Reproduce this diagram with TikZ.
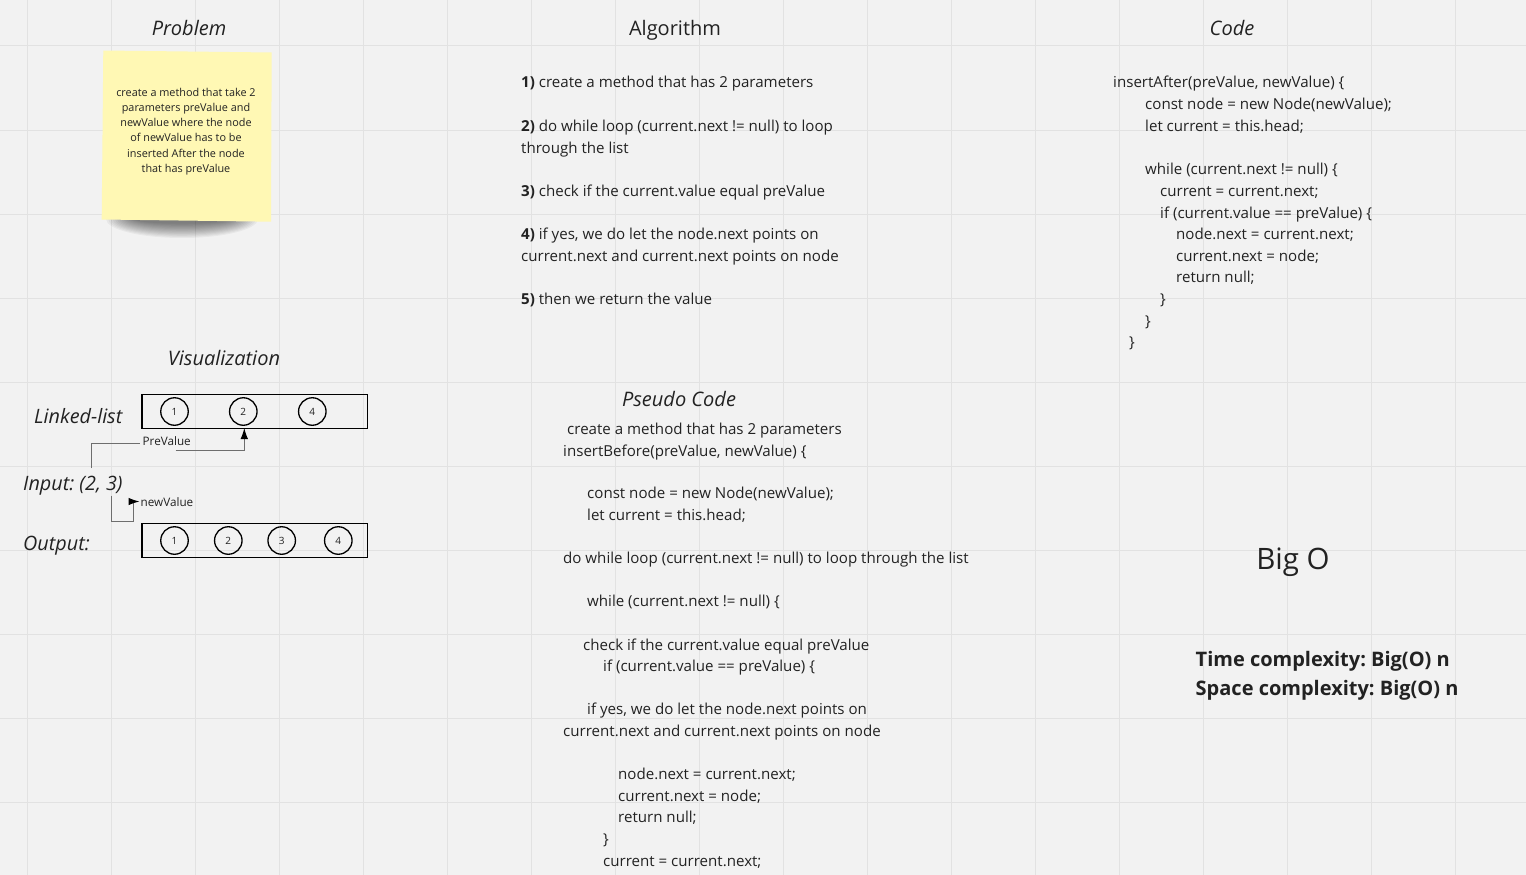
\documentclass[tikz,border=0pt]{standalone}
\usepackage{fontspec}
\setmainfont{Open Sans}
\usetikzlibrary{arrows.meta}
\definecolor{bg}{HTML}{F2F2F2}
\definecolor{gridc}{HTML}{E2E2E2}
\definecolor{txt}{HTML}{222222}
\definecolor{sticky}{HTML}{FFF8B4}
\definecolor{conn}{HTML}{6E6E6E}
\frenchspacing
\begin{document}
\begin{tikzpicture}[x=1pt,y=-1pt,
  ititle/.style={font=\fontsize{20}{24}\selectfont\itshape, text=txt, inner sep=0, anchor=base},
  ntitle/.style={font=\fontsize{20}{24}\selectfont, text=txt, inner sep=0, anchor=base},
  body/.style={font=\fontsize{15.1}{21.6}\selectfont, text=txt, anchor=base west, inner sep=0},
  vlabel/.style={font=\fontsize{19.8}{24}\selectfont\itshape, text=txt, anchor=base west, inner sep=0},
  listbox/.style={draw=black, line width=1.8pt},
  lnode/.style={circle, draw=black, line width=1.3pt, minimum size=27.5pt, inner sep=0, font=\fontsize{10}{12}\selectfont, text=txt},
  clabel/.style={font=\fontsize{11.7}{13}\selectfont, text=txt, anchor=base west, inner sep=0},
  connector/.style={draw=conn, line width=1pt},
  tip/.style={-{Latex[length=11pt,width=7.5pt,color=black]}},
  bigo/.style={font=\fontsize{20}{24}\selectfont\bfseries, text=txt, anchor=base west, inner sep=0}
]
\useasboundingbox (0,0) rectangle (1526,875);
\fill[bg] (0,0) rectangle (1526,875);
% grid
\foreach \k in {0,...,17} \draw[gridc, line width=1pt] ({27.7+84*\k},0) -- ({27.7+84*\k},875);
\foreach \k in {0,...,9} \draw[gridc, line width=1pt] (0,{46+84*\k}) -- (1526,{46+84*\k});

% ---------- titles
\node[ititle] (tproblem) at (189,36) {Problem};
\node[ntitle] (talgo) at (675,36) {Algorithm};
\node[ititle] (tcode) at (1232,36) {Code};
\node[ititle] (tviz) at (224,365) {Visualization};
\node[ititle] (tpseudo) at (679,406) {Pseudo Code};

% ---------- sticky note
\foreach \i in {0,...,13}
  \fill[black, opacity=0.045] (182,219) ellipse ({76-2.2*\i} and {19-1.1*\i});
\fill[sticky] (103.3,50.5) -- (271.7,52.5) -- (271,221.7) -- (101.7,219.5) -- cycle;
\node[font=\fontsize{10.85}{15.3}\selectfont, text=txt, align=center, inner sep=0] (note) at (186,131.5)
  {create a method that take 2\\parameters preValue and\\newValue where the node\\of newValue has to be\\inserted After the node\\that has preValue};

% ---------- algorithm
\node[body] (a1) at (521,88) {\textbf{1)} create a method that has 2 parameters};
\node[body] (a2) at (521,131) {\textbf{2)} do while loop (current.next != null) to loop};
\node[body] (a2b) at (521,153) {through the list};
\node[body] (a3) at (521,196) {\textbf{3)} check if the current.value equal preValue};
\node[body] (a4) at (521,239) {\textbf{4)} if yes, we do let the node.next points on};
\node[body] (a4b) at (521,261) {current.next and current.next points on node};
\node[body] (a5) at (521,304) {\textbf{5)} then we return the value};

% ---------- code
\node[body] (c1) at (1113,88) {insertAfter(preValue, newValue) \{};
\node[body] (c2) at (1145,110) {const node = new Node(newValue);};
\node[body] (c3) at (1145,131) {let current = this.head;};
\node[body] (c4) at (1145,174) {while (current.next != null) \{};
\node[body] (c5) at (1160,196) {current = current.next;};
\node[body] (c6) at (1160,218) {if (current.value == preValue) \{};
\node[body] (c7) at (1176,239) {node.next = current.next;};
\node[body] (c8) at (1176,261) {current.next = node;};
\node[body] (c9) at (1176,282) {return null;};
\node[body] (c10) at (1160,304) {\}};
\node[body] (c11) at (1145,326) {\}};
\node[body] (c12) at (1129,347) {\}};

% ---------- pseudo code
\node[body] (p1) at (567,434) {create a method that has 2 parameters};
\node[body] (p2) at (563,456) {insertBefore(preValue, newValue) \{};
\node[body] (p3) at (587,498) {const node = new Node(newValue);};
\node[body] (p4) at (587,520) {let current = this.head;};
\node[body] (p5) at (563,563) {do while loop (current.next != null) to loop through the list};
\node[body] (p6) at (587,606) {while (current.next != null) \{};
\node[body] (p7) at (583,650) {check if the current.value equal preValue};
\node[body] (p8) at (603,671) {if (current.value == preValue) \{};
\node[body] (p9) at (587,714) {if yes, we do let the node.next points on};
\node[body] (p10) at (563,736) {current.next and current.next points on node};
\node[body] (p11) at (618,779) {node.next = current.next;};
\node[body] (p12) at (618,801) {current.next = node;};
\node[body] (p13) at (618,822) {return null;};
\node[body] (p14) at (603,844) {\}};
\node[body] (p15) at (603,866) {current = current.next;};

% ---------- big O
\node[font=\fontsize{29.5}{34}\selectfont, text=txt, anchor=base, inner sep=0] (bigo) at (1293,569) {Big O};
\node[bigo] (time) at (1195.5,666.5) {Time complexity: Big(O) n};
\node[bigo] (space) at (1195.5,695.5) {Space complexity: Big(O) n};

% ---------- visualization
\node[vlabel] (ll) at (34,423) {Linked-list};
\node[vlabel] (inp) at (23,490) {Input: (2, 3)};
\node[vlabel] (outp) at (23,550.5) {Output:};

\draw[listbox] (141.7,394.5) rectangle (367.5,428.5);
\node[lnode] (l1) at (174.5,411.5) {1};
\node[lnode] (l2) at (243.3,411.5) {2};
\node[lnode] (l4) at (312.3,411.5) {4};

\draw[listbox] (141.7,523.5) rectangle (367.5,557.5);
\node[lnode] (o1) at (174.5,540.5) {1};
\node[lnode] (o2) at (228.3,540.5) {2};
\node[lnode] (o3) at (281.7,540.5) {3};
\node[lnode] (o4) at (338.3,540.5) {4};

\node[clabel] (prev) at (142.5,445.5) {PreValue};
\node[clabel] (newv) at (140.5,506) {newValue};

\coordinate (inTop) at (91.7,468);
\coordinate (inBot) at (111.7,495.5);
\coordinate (pvIn) at (140,443.3);
\coordinate (pvOut) at (175.7,450.7);
\coordinate (l2tip) at (244.3,428);
\coordinate (nvTip) at (139.5,501.5);

\draw[connector] (inTop) |- (pvIn);
\draw[connector, tip] (pvOut) -| (l2tip);
\draw[connector, tip] (inBot) |- (133.3,521.7) |- (nvTip);
\end{tikzpicture}
\end{document}
